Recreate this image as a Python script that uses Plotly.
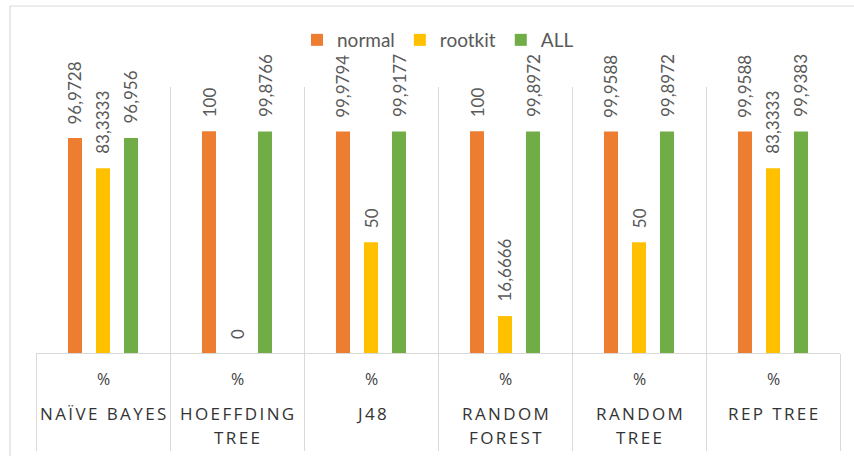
import plotly.graph_objects as go

categories = ["NAÏVE BAYES", "HOEFFDING TREE", "J48", "RANDOM FOREST", "RANDOM TREE", "REP TREE"]
category_lines = [["NAÏVE BAYES"], ["HOEFFDING", "TREE"], ["J48"], ["RANDOM", "FOREST"], ["RANDOM", "TREE"], ["REP TREE"]]
unit_label = "%"
series_names = ["normal", "rootkit", "ALL"]
normal = [96.9728, 100, 99.9794, 100, 99.9588, 99.9588]
rootkit = [83.3333, 0, 50, 16.6666, 50, 83.3333]
all_vals = [96.956, 99.8766, 99.9177, 99.8972, 99.8972, 99.9383]
colors = ["#ED7D31", "#FFC000", "#70AD47"]

series = [normal, rootkit, all_vals]

W, H = 854, 456
L, R, T, B = 36, 14, 87, 103
pw, ph = W - L - R, H - T - B

fig = go.Figure()
for name, vals, col in zip(series_names, series, colors):
    fig.add_trace(go.Bar(
        x=categories, y=vals, name=name,
        marker=dict(color=col, line=dict(width=0)),
        hoverinfo="x+y+name",
    ))

def fmt(v):
    s = ("%g" % v)
    return s.replace(".", ",")

annotations = []
cat_w = pw / len(categories)
spacing = cat_w * (1 - 0.373) / 3
for i, vals in enumerate(series):
    for c, v in zip(categories, vals):
        annotations.append(dict(
            x=c, y=v, xref="x", yref="y", text=fmt(v), textangle=-90,
            showarrow=False, xanchor="center", yanchor="bottom",
            xshift=(i - 1) * spacing, yshift=12,
            font=dict(family="Lato", size=17, color="#595959"),
        ))

for c, lines in zip(categories, category_lines):
    annotations.append(dict(
        x=c, y=0, xref="x", yref="paper", text=unit_label, showarrow=False,
        xanchor="center", yanchor="middle", yshift=-26,
        font=dict(family="Open Sans", size=16, color="#404040"),
    ))
    for k, line in enumerate(lines):
        annotations.append(dict(
            x=c, y=0, xref="x", yref="paper",
            text='<span style="letter-spacing:2.4px">%s</span>' % line,
            showarrow=False, xanchor="center", yanchor="middle",
            yshift=-60 - 24 * k, xshift=1.2,
            font=dict(family="Open Sans", size=17, color="#333333"),
        ))

def px_to_paper_x(px):
    return (px - L) / pw

def px_to_paper_y(py):
    return (H - B - py) / ph

shapes = [
    dict(type="line", xref="paper", yref="paper",
         x0=px_to_paper_x(10), x1=px_to_paper_x(W + 10),
         y0=px_to_paper_y(6), y1=px_to_paper_y(6),
         line=dict(color="#D9D9D9", width=1.2)),
    dict(type="line", xref="paper", yref="paper",
         x0=px_to_paper_x(10), x1=px_to_paper_x(10),
         y0=px_to_paper_y(6), y1=px_to_paper_y(H + 10),
         line=dict(color="#D9D9D9", width=1.2)),
]

fig.update_layout(
    width=W, height=H,
    margin=dict(l=L, r=R, t=T, b=B, pad=0, autoexpand=False),
    paper_bgcolor="white", plot_bgcolor="white",
    barmode="group", bargap=0.373, bargroupgap=0.5,
    showlegend=True,
    legend=dict(orientation="h", x=0.5, xanchor="center",
                y=px_to_paper_y(40), yanchor="middle",
                font=dict(family="Lato", size=19, color="#595959"),
                itemwidth=30, traceorder="normal"),
    xaxis=dict(type="category", tickson="boundaries", showgrid=True,
               gridcolor="#D9D9D9", gridwidth=1.2, automargin=False,
               ticks="outside", ticklen=97, tickcolor="#D9D9D9", tickwidth=1.2,
               showticklabels=False, showline=True, linecolor="#D9D9D9", linewidth=1.2,
               fixedrange=True),
    yaxis=dict(range=[0, 120], visible=False, showgrid=False, zeroline=False,
               automargin=False, fixedrange=True),
    annotations=annotations,
    shapes=shapes,
)

fig.write_html("out.html")
